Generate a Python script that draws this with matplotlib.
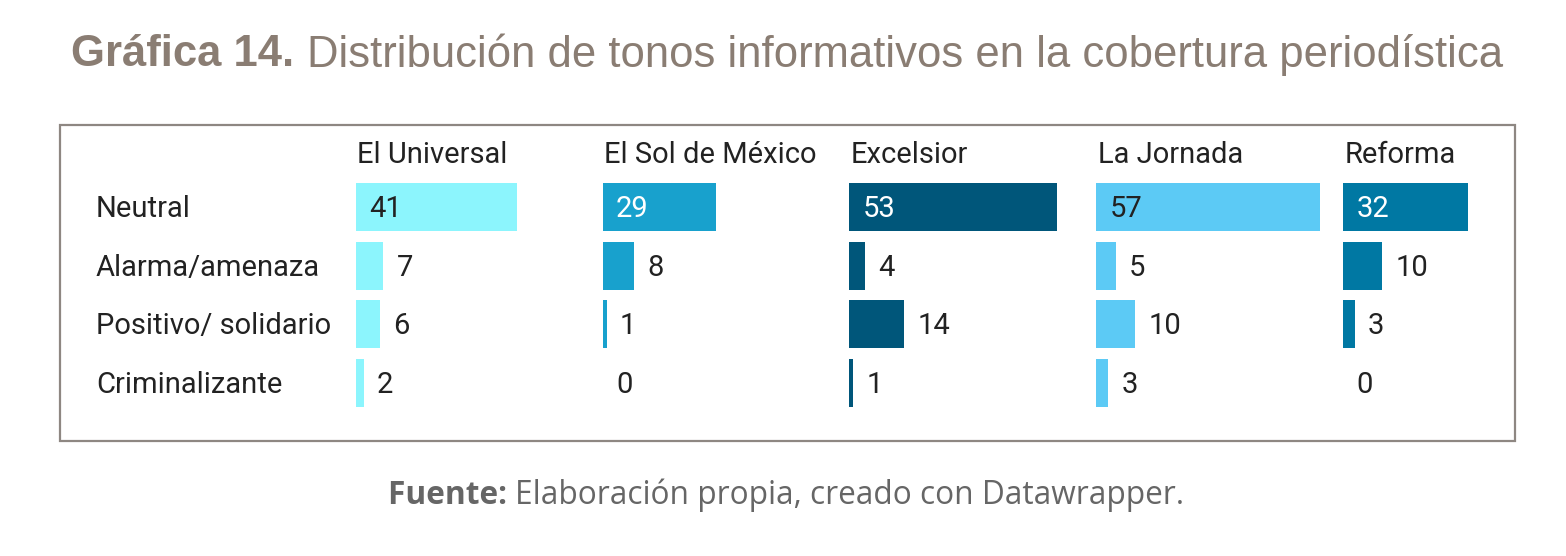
import matplotlib
matplotlib.use("Agg")
from matplotlib import pyplot as plt
from matplotlib.patches import Rectangle
from matplotlib.transforms import blended_transform_factory, offset_copy
from matplotlib.colors import to_rgb

periodicos = ["El Universal", "El Sol de México", "Excelsior", "La Jornada", "Reforma"]
tonos = ["Neutral", "Alarma/amenaza", "Positivo/ solidario", "Criminalizante"]
el_universal = [41, 7, 6, 2]
el_sol = [29, 8, 1, 0]
excelsior = [53, 4, 14, 1]
la_jornada = [57, 5, 10, 3]
reforma = [32, 10, 3, 0]
valores = [el_universal, el_sol, excelsior, la_jornada, reforma]
colores = ["#8cf5fd", "#18a1cd", "#00567a", "#5ccaf5", "#0078a3"]

W, H = 1566, 556
fig = plt.figure(figsize=(W / 100, H / 100), dpi=100)
fig.patch.set_facecolor("white")

texto = "#222222"
px_por_unidad = 3.92
panel_ancho = 246
ax_top, ax_bot = 177.5, 412.5
fs = 21


def mezcla(y_px, partes, cx_px, size, family, color):
    # texto centrado con partes en negrita y normales
    r = fig.canvas.get_renderer()
    objs = []
    for s, peso in partes:
        t = fig.text(0, 1 - y_px / H, s, fontsize=size, fontweight=peso,
                     family=family, color=color, va="center", ha="left")
        objs.append(t)
    anchos = [t.get_window_extent(r).width for t in objs]
    x = cx_px - sum(anchos) / 2
    for t, w in zip(objs, anchos):
        t.set_x(x / W)
        x += w


mezcla(55, [("Gráfica 14. ", "bold"),
            ("Distribución de tonos informativos en la cobertura periodística", "normal")],
       787, 31.4, "Liberation Sans", "#8a7d73")

mezcla(495, [("Fuente: ", "bold"), ("Elaboración propia, creado con Datawrapper.", "normal")],
       786, 22.8, "Open Sans", "#666666")

# marco
fig.patches.append(Rectangle((60 / W, 1 - 441 / H), (1515 - 60) / W, (441 - 125) / H,
                             transform=fig.transFigure, fill=False,
                             edgecolor="#8e8782", linewidth=1.6))

axes = []
for i, (nombre, vals, col) in enumerate(zip(periodicos, valores, colores)):
    left = 356 + i * 246.75
    ax = fig.add_axes([left / W, 1 - ax_bot / H, panel_ancho / W, (ax_bot - ax_top) / H])
    ax.set_xlim(0, panel_ancho / px_por_unidad)
    ax.set_ylim(len(tonos) - 0.5, -0.5)
    ax.axis("off")
    ypos = list(range(len(tonos)))
    ax.barh(ypos, vals, height=0.815, color=col, left=0)
    lum = sum(c * w for c, w in zip(to_rgb(col), (0.299, 0.587, 0.114)))
    dentro = texto if lum > 0.6 else "white"
    for y, v in zip(ypos, vals):
        if v > 20:
            ax.annotate(str(v), (0, y), xytext=(9.5, -1.5), textcoords="offset points",
                        va="center", ha="left", fontsize=fs, family="Roboto", color=dentro)
        else:
            ax.annotate(str(v), (v, y), xytext=(9.5, -1.5), textcoords="offset points",
                        va="center", ha="left", fontsize=fs, family="Roboto", color=texto)
    ax.annotate(nombre, (0, -0.5), xytext=(1, 16.5), textcoords="offset points",
                va="center", ha="left", fontsize=fs, family="Roboto", color=texto,
                annotation_clip=False)
    axes.append(ax)

trans = blended_transform_factory(fig.transFigure, axes[0].transData)
trans = offset_copy(trans, fig=fig, y=-1.5, units="points")
for y, t in enumerate(tonos):
    axes[0].text(96 / W, y, t, transform=trans, va="center", ha="left",
                 fontsize=fs, family="Roboto", color=texto)

fig.savefig("out.png", dpi=100, facecolor="white")
